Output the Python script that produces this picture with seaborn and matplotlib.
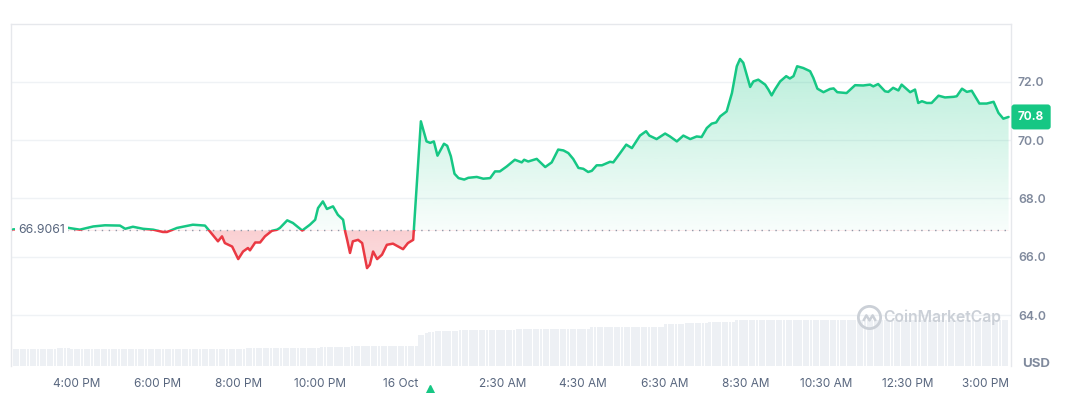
import matplotlib
matplotlib.use("Agg")
import matplotlib.pyplot as plt
import numpy as np
import seaborn as sns
from matplotlib.colors import to_rgb
from matplotlib.patches import PathPatch, Rectangle
from matplotlib.path import Path

# price series, hours counted from 15 Oct 00:00
hours = [14.42, 15.09, 15.70, 16.07, 16.40, 16.69, 17.06, 17.19, 17.38, 17.63,
         17.88, 18.12, 18.22, 18.47, 18.86, 19.16, 19.28, 19.48, 19.58, 19.65,
         19.83, 19.98, 20.10, 20.22, 20.27, 20.40, 20.52, 20.64, 20.81, 20.94,
         21.01, 21.19, 21.33, 21.56, 21.75, 21.88, 21.95, 22.07, 22.17, 22.32,
         22.44, 22.57, 22.62, 22.67, 22.74, 22.81, 22.94, 23.04, 23.16, 23.23,
         23.31, 23.41, 23.53, 23.65, 23.80, 24.05, 24.17, 24.30, 24.49,
         24.63, 24.72, 24.81, 24.90, 25.06, 25.14, 25.23, 25.32, 25.42, 25.56,
         25.66, 25.87, 26.03, 26.20, 26.32, 26.44, 26.61, 26.81, 26.98, 27.04,
         27.14, 27.35, 27.56, 27.72, 27.88, 28.01, 28.13, 28.25, 28.38, 28.50,
         28.62, 28.71, 28.83, 28.96, 29.16, 29.24, 29.41, 29.56, 29.70, 29.90,
         30.05, 30.13, 30.31, 30.52, 30.64, 30.81, 30.97, 31.14, 31.30, 31.42,
         31.55, 31.67, 31.78, 31.88,
         32.04, 32.17, 32.29, 32.37, 32.45, 32.62, 32.70, 32.82, 32.99, 33.07,
         33.15, 33.23, 33.36, 33.51, 33.60, 33.69, 33.78, 33.93, 34.10, 34.18,
         34.28, 34.43, 34.59, 34.68, 34.77, 35.00, 35.21, 35.41, 35.58, 35.66,
         35.78, 35.95, 36.03, 36.15, 36.28, 36.36, 36.57, 36.69, 36.77, 36.86,
         36.98, 37.10, 37.27, 37.43, 37.64, 37.72, 37.85, 37.97, 38.09, 38.28,
         38.46, 38.63, 38.75, 38.87, 39.00]
price = [66.94, 66.96, 67.01, 66.93, 67.04, 67.08, 67.07, 66.96, 67.03, 66.96,
         66.93, 66.85, 66.85, 66.99, 67.10, 67.07, 66.87, 66.53, 66.70, 66.47,
         66.35, 65.92, 66.18, 66.30, 66.22, 66.49, 66.49, 66.70, 66.89, 66.93,
         66.99, 67.25, 67.16, 66.90, 67.10, 67.27, 67.67, 67.90, 67.64, 67.73,
         67.44, 67.27, 66.87, 66.58, 66.13, 66.53, 66.58, 66.47, 65.61, 65.73,
         66.18, 65.92, 66.07, 66.41, 66.45, 66.26, 66.47, 66.58, 70.65,
         69.96, 69.91, 69.96, 69.47, 69.88, 69.81, 69.45, 68.85, 68.70, 68.65,
         68.71, 68.74, 68.68, 68.70, 68.93, 68.93, 69.10, 69.33, 69.24, 69.33,
         69.27, 69.36, 69.08, 69.24, 69.68, 69.65, 69.56, 69.36, 69.05, 69.02,
         68.91, 68.95, 69.14, 69.14, 69.26, 69.24, 69.56, 69.85, 69.73, 70.16,
         70.31, 70.16, 70.04, 70.23, 70.13, 69.96, 70.16, 70.04, 70.13, 70.11,
         70.42, 70.57, 70.61, 70.82,
         70.99, 71.62, 72.54, 72.79, 72.66, 71.83, 72.02, 72.08, 71.91, 71.74,
         71.54, 71.74, 72.02, 72.20, 72.12, 72.20, 72.54, 72.48, 72.37, 72.14,
         71.77, 71.65, 71.76, 71.78, 71.65, 71.62, 71.89, 71.88, 71.91, 71.85,
         71.93, 71.68, 71.66, 71.80, 71.71, 71.91, 71.65, 71.74, 71.28, 71.34,
         71.28, 71.28, 71.53, 71.47, 71.49, 71.51, 71.77, 71.66, 71.70, 71.26,
         71.26, 71.32, 70.94, 70.74, 70.80]
open_price = 66.9061
last_price = 70.8

# volume plateaus (start hour, bar height)
vol_start = [14.37, 15.46, 15.83, 20.10, 22.00, 22.74, 24.35, 24.42, 24.52,
             24.64, 24.79, 25.38, 26.77, 28.59, 30.47, 30.96, 31.56, 32.20]
vol_level = [17, 18, 17, 18, 19, 20, 26, 31, 33,
             34.5, 35, 36.5, 37.5, 39, 42, 43, 44, 46]
event_hour = 24.72

tick_hours = [16, 18, 20, 22, 24, 26.5, 28.5, 30.5, 32.5, 34.5, 36.5, 39]
tick_labels = ["4:00 PM", "6:00 PM", "8:00 PM", "10:00 PM", "16 Oct", "2:30 AM",
               "4:30 AM", "6:30 AM", "8:30 AM", "10:30 AM", "12:30 PM", "3:00 PM"]
price_ticks = [64, 66, 68, 70, 72]

GREEN = "#16c784"
RED = "#ea3943"
GRID = "#eff2f5"

sns.set_style("white")
plt.rcParams["font.family"] = ["Inter", "DejaVu Sans"]

fig = plt.figure(figsize=(10.67, 3.93), dpi=100)
ax_vol = fig.add_axes([11 / 1067, 27 / 393, 1000 / 1067, 342 / 393])
ax = ax_vol.twinx()
xlim = (14.37, 39.06)

# volume bars
bar_t = np.arange(hours[0], hours[-1] + 1e-6, 5 / 60)
idx = np.searchsorted(vol_start, bar_t, side="right") - 1
ax_vol.bar(bar_t, np.array(vol_level)[idx], width=4.2 / 60, color="#edf0f4",
           linewidth=0, align="edge")
ax_vol.set_ylim(0, 342)
ax_vol.set_yticks([])
for s in ax_vol.spines.values():
    s.set_visible(False)

# area between price and open line
verts = list(zip(hours, price)) + [(hours[-1], open_price), (hours[0], open_price),
                                   (hours[0], price[0])]
area = PathPatch(Path(verts), transform=ax.transData, fc="none", ec="none")
ax.add_patch(area)

g = np.zeros((256, 1, 4))
g[..., :3] = to_rgb(GREEN)
g[:, 0, 3] = np.linspace(0.03, 0.30, 256)
im = ax.imshow(g, extent=[hours[0], hours[-1], open_price, max(price)],
               origin="lower", aspect="auto", zorder=1, interpolation="bilinear")
im.set_clip_path(area)

r = np.zeros((256, 1, 4))
r[..., :3] = to_rgb(RED)
r[:, 0, 3] = np.linspace(0.17, 0.24, 256)
im2 = ax.imshow(r, extent=[hours[0], hours[-1], min(price), open_price],
                origin="lower", aspect="auto", zorder=1, interpolation="bilinear")
im2.set_clip_path(area)

ax.axhline(open_price, color="#8f98a8", lw=1, ls=(0, (1, 4)), zorder=2)

# price line, green above the open, red below
sns.lineplot(x=hours, y=price, ax=ax, color=GREEN, lw=1.8, zorder=3)
ax.lines[-1].set_clip_path(Rectangle((xlim[0], open_price), 30, 20,
                                     transform=ax.transData))
sns.lineplot(x=hours, y=price, ax=ax, color=RED, lw=1.8, zorder=3)
ax.lines[-1].set_clip_path(Rectangle((xlim[0], open_price - 20), 30, 20,
                                     transform=ax.transData))

ax.set_xlim(*xlim)
ax_vol.set_xlim(*xlim)
ax.set_ylim(62.249, 73.991)

# axes styling
ax.set_yticks(price_ticks)
ax.set_yticklabels([f"{v:.1f}" for v in price_ticks])
ax.tick_params(axis="y", length=0, pad=5, labelsize=8.8, labelcolor="#808a9d")
for lbl in ax.get_yticklabels():
    lbl.set_fontweight("semibold")
ax.grid(axis="y", color=GRID, lw=1)
ax.set_axisbelow(True)
for side in ["top", "left", "right"]:
    ax.spines[side].set_color("#e6e8ec")
    ax.spines[side].set_linewidth(1)
ax.spines["bottom"].set_visible(False)

ax_vol.set_xticks(tick_hours)
ax_vol.set_xticklabels(tick_labels)
ax_vol.tick_params(axis="x", length=0, pad=8.5, labelsize=8.5, labelcolor="#58667e")
ax_vol.get_xticklabels()[-1].set_horizontalalignment("right")
ax.set_xlabel("")
ax.set_ylabel("")

# open price label
ax.text(0.007, open_price, "66.9061", transform=ax.get_yaxis_transform(),
        ha="left", va="center", fontsize=8.8, color="#58667e", zorder=5,
        bbox=dict(fc="white", ec="none", pad=2.5))

# last price tag
ax.annotate(f"{last_price:.1f}", xy=(1, last_price),
            xycoords=ax.get_yaxis_transform(), xytext=(5, 0),
            textcoords="offset points", ha="left", va="center", fontsize=8.5,
            fontweight="bold", color="white", annotation_clip=False,
            bbox=dict(boxstyle="round,pad=0.55,rounding_size=0.25", fc=GREEN, ec="none"))

fig.text(1036 / 1067, 1 - 364 / 393, "USD", ha="center", va="center",
         fontsize=9.5, fontweight="bold", color="#808a9d")

# watermark
ax.plot([0.858], [0.143], transform=ax.transAxes, marker="o", ms=16, mfc="none",
        mec="#cbd0d7", mew=2, zorder=4)
wave = Path([(-1, -0.4), (-0.5, 0.5), (0, -0.3), (0.5, 0.5), (1, -0.4)])
ax.plot([0.858], [0.140], transform=ax.transAxes, marker=wave, ms=9, mfc="none",
        mec="#cbd0d7", mew=1.8, zorder=4)
ax.text(0.872, 0.143, "CoinMarketCap", transform=ax.transAxes, ha="left",
        va="center", fontsize=11.3, fontweight="semibold", color="#cbd0d7", zorder=4)

# event marker under the axis
ax.plot([event_hour], [-0.067], transform=ax.get_xaxis_transform(), marker="^",
        ms=6, color=GREEN, clip_on=False, zorder=5)

fig.savefig("out.png", dpi=100)
